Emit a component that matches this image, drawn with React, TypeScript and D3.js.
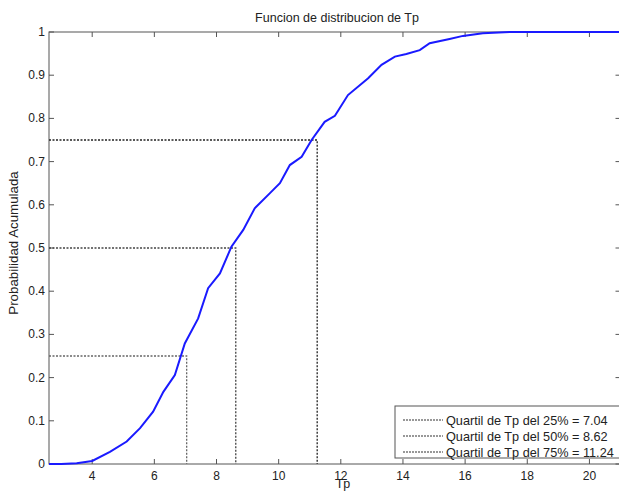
import React, { useEffect, useRef } from "react";
import * as d3 from "d3";

// values
const tpValues = [
  2.61, 3.0, 3.5, 4.0, 4.57, 5.11, 5.54, 5.96, 6.29, 6.66, 6.98, 7.41, 7.73,
  8.11, 8.48, 8.86, 9.23, 9.72, 10.04, 10.36, 10.74, 11.06, 11.48, 11.81,
  12.23, 12.88, 13.31, 13.74, 14.11, 14.54, 14.86, 15.5, 15.93, 16.57, 17.43,
  18.5, 21,
];
const probValues = [
  0, 0, 0.002, 0.007, 0.028, 0.052, 0.083, 0.121, 0.167, 0.206, 0.279, 0.337,
  0.407, 0.441, 0.503, 0.542, 0.592, 0.627, 0.65, 0.692, 0.711, 0.75, 0.792,
  0.806, 0.854, 0.893, 0.924, 0.943, 0.949, 0.958, 0.974, 0.984, 0.991, 0.997,
  1.0, 1.0, 1.0,
];
const quartileProbs = [0.25, 0.5, 0.75];
const quartileValues = [7.04, 8.62, 11.24];
const quartileColors = ["#666", "#444", "#222"];
const legendLabels = [
  "Quartil de Tp del 25% = 7.04",
  "Quartil de Tp del 50% = 8.62",
  "Quartil de Tp del 75% = 11.24",
];
const xTicks = [4, 6, 8, 10, 12, 14, 16, 18, 20];
const yTicks = [0, 0.1, 0.2, 0.3, 0.4, 0.5, 0.6, 0.7, 0.8, 0.9, 1];

export default function App() {
  const ref = useRef<SVGSVGElement>(null);

  useEffect(() => {
    const svg = d3.select(ref.current);
    svg.selectAll("*").remove();
    const font = "'Liberation Sans', Arial, sans-serif";
    const axisColor = "#555";

    const x = d3.scaleLinear().domain([2.61, 21]).range([49, 620.5]);
    const y = d3.scaleLinear().domain([0, 1]).range([464, 32]);

    // box
    svg
      .append("rect")
      .attr("x", x(2.61))
      .attr("y", y(1))
      .attr("width", x(21) - x(2.61))
      .attr("height", y(0) - y(1))
      .attr("fill", "white")
      .attr("stroke", axisColor)
      .attr("stroke-width", 1);

    // ticks inside the box
    const g = svg.append("g").attr("stroke", axisColor).attr("stroke-width", 1);
    xTicks.forEach((t) => {
      g.append("line").attr("x1", x(t)).attr("x2", x(t)).attr("y1", y(0)).attr("y2", y(0) - 5);
      g.append("line").attr("x1", x(t)).attr("x2", x(t)).attr("y1", y(1)).attr("y2", y(1) + 5);
    });
    yTicks.forEach((t) => {
      g.append("line").attr("x1", x(2.61)).attr("x2", x(2.61) + 5).attr("y1", y(t)).attr("y2", y(t));
      g.append("line").attr("x1", x(21)).attr("x2", x(21) - 5).attr("y1", y(t)).attr("y2", y(t));
    });

    svg
      .append("g")
      .selectAll("text")
      .data(xTicks)
      .enter()
      .append("text")
      .attr("x", (d) => x(d))
      .attr("y", 480)
      .attr("text-anchor", "middle")
      .attr("font-family", font)
      .attr("font-size", 12)
      .attr("fill", "#222")
      .text((d) => d);

    svg
      .append("g")
      .selectAll("text")
      .data(yTicks)
      .enter()
      .append("text")
      .attr("x", 45)
      .attr("y", (d) => y(d) + 4)
      .attr("text-anchor", "end")
      .attr("font-family", font)
      .attr("font-size", 12)
      .attr("fill", "#222")
      .text((d) => d);

    // quartile guides
    quartileValues.forEach((q, i) => {
      const p = quartileProbs[i];
      svg
        .append("path")
        .attr("d", `M${x(2.61)},${y(p)}H${x(q)}V${y(0)}`)
        .attr("fill", "none")
        .attr("stroke", quartileColors[i])
        .attr("stroke-width", 1.3)
        .attr("stroke-dasharray", "2,1.5");
    });

    // CDF curve
    const pts = tpValues.map((t, i) => [t, probValues[i]] as [number, number]);
    const line = d3
      .line<[number, number]>()
      .x((d) => x(d[0]))
      .y((d) => y(d[1]));
    svg
      .append("path")
      .attr("d", line(pts))
      .attr("fill", "none")
      .attr("stroke", "#1a1aff")
      .attr("stroke-width", 2);

    // legend
    svg
      .append("rect")
      .attr("x", 395)
      .attr("y", 406)
      .attr("width", 240)
      .attr("height", 52)
      .attr("fill", "white")
      .attr("stroke", axisColor);
    legendLabels.forEach((lab, i) => {
      const cy = 420 + i * 16;
      svg
        .append("line")
        .attr("x1", 403)
        .attr("x2", 443)
        .attr("y1", cy)
        .attr("y2", cy)
        .attr("stroke", "#333")
        .attr("stroke-width", 1.2)
        .attr("stroke-dasharray", "2,1");
      svg
        .append("text")
        .attr("x", 446)
        .attr("y", cy + 4.5)
        .attr("font-family", font)
        .attr("font-size", 12.7)
        .attr("fill", "#222")
        .text(lab);
    });

    // titles
    svg
      .append("text")
      .attr("x", 337)
      .attr("y", 22)
      .attr("text-anchor", "middle")
      .attr("font-family", font)
      .attr("font-size", 12.5)
      .attr("fill", "#222")
      .text("Funcion de distribucion de Tp");
    svg
      .append("text")
      .attr("x", 343)
      .attr("y", 488)
      .attr("text-anchor", "middle")
      .attr("font-family", font)
      .attr("font-size", 12.5)
      .attr("fill", "#222")
      .text("Tp");
    svg
      .append("text")
      .attr("transform", "translate(18,243) rotate(-90)")
      .attr("text-anchor", "middle")
      .attr("font-family", font)
      .attr("font-size", 13.3)
      .attr("fill", "#222")
      .text("Probabilidad Acumulada");
  }, []);

  return (
    <svg
      ref={ref}
      width={619}
      height={492}
      style={{ position: "absolute", left: 0, top: 0, background: "white" }}
    />
  );
}
